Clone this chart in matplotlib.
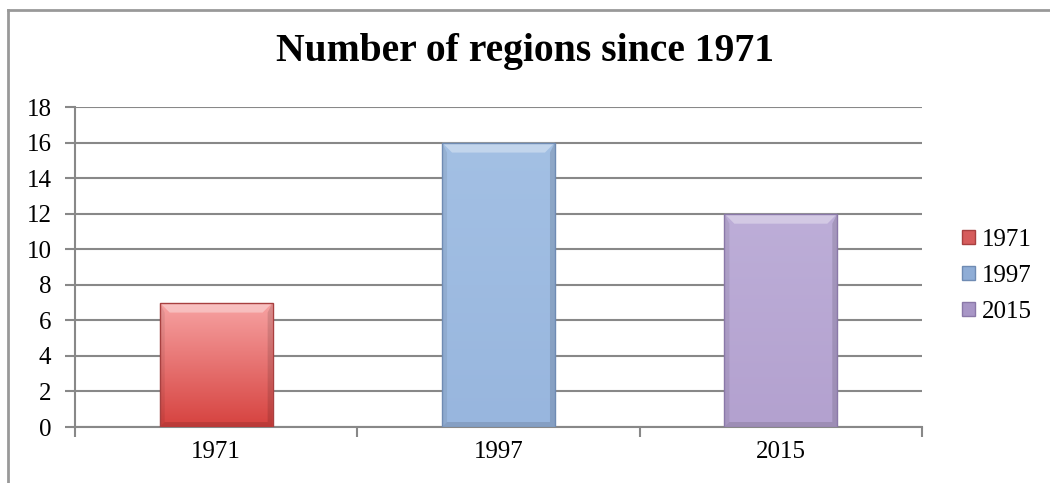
import numpy as np
import matplotlib.pyplot as plt
from matplotlib.patches import Patch, Polygon
from matplotlib.lines import Line2D
from matplotlib.colors import LinearSegmentedColormap

# data
years = ['1971', '1997', '2015']
regions = [7, 16, 12]

# gradient colours for each bar (top, bottom)
top_colors = ['#f7a3a3', '#a3c0e4', '#bdaed8']
bottom_colors = ['#d6423f', '#98b6de', '#b3a1cf']
edge_colors = ['#a84040', '#6f8bb3', '#8a78a8']
legend_colors = ['#d65c5c', '#8fadd6', '#a896c6']

plt.rcParams['font.family'] = 'Liberation Serif'

fig = plt.figure(figsize=(10.5, 4.83), dpi=100)
ax = fig.add_axes([75 / 1050, 1 - 427 / 483, (922 - 75) / 1050, (427 - 107) / 483])

ax.set_xlim(-0.5, len(years) - 0.5)
ax.set_ylim(0, 18)

x = np.arange(len(years))
bar_w = 0.4
bars = ax.bar(x, regions, width=bar_w, color='none', edgecolor='none', zorder=3)

# bevel sizes in data units (about 10 px)
bev_x = 10 * 3 / 847
bev_y = 10 * 18 / 320

# fill each bar with a vertical gradient, clipped to the bar, plus a bevel
grad = np.linspace(0, 1, 256).reshape(-1, 1)
for i, b in enumerate(bars):
    cmap = LinearSegmentedColormap.from_list('g%d' % i, [bottom_colors[i], top_colors[i]])
    x0 = b.get_x()
    w = b.get_width()
    h = b.get_height()
    im = ax.imshow(grad, cmap=cmap, aspect='auto', origin='lower',
                   extent=[x0, x0 + w, 0, h], zorder=3)
    im.set_clip_path(b)
    # top bevel (light)
    ax.add_patch(Polygon([[x0, h], [x0 + w, h], [x0 + w - bev_x, h - bev_y], [x0 + bev_x, h - bev_y]],
                         closed=True, facecolor='white', alpha=0.35, edgecolor='none', zorder=4))
    # side bevels (slightly darker)
    ax.add_patch(Polygon([[x0, h], [x0 + bev_x * 0.5, h - bev_y], [x0 + bev_x * 0.5, bev_y * 0.5], [x0, 0]],
                         closed=True, facecolor='black', alpha=0.07, edgecolor='none', zorder=4))
    ax.add_patch(Polygon([[x0 + w, h], [x0 + w - bev_x * 0.5, h - bev_y], [x0 + w - bev_x * 0.5, bev_y * 0.5], [x0 + w, 0]],
                         closed=True, facecolor='black', alpha=0.12, edgecolor='none', zorder=4))
    ax.add_patch(Polygon([[x0, 0], [x0 + w, 0], [x0 + w - bev_x * 0.5, bev_y * 0.5], [x0 + bev_x * 0.5, bev_y * 0.5]],
                         closed=True, facecolor='black', alpha=0.12, edgecolor='none', zorder=4))
    ax.bar(x[i], regions[i], width=bar_w, color='none',
           edgecolor=edge_colors[i], linewidth=1.0, zorder=5)

ax.set_yticks(np.arange(0, 19, 2))
ax.set_xticks(x)
ax.set_xticklabels(years)
ax.set_xticks(np.arange(-0.5, len(years), 1), minor=True)

ax.tick_params(axis='x', which='major', length=0, labelsize=18, pad=10)
ax.tick_params(axis='x', which='minor', length=7, width=1.5, color='#888888', direction='out')
ax.tick_params(axis='y', length=7, width=1.5, color='#888888', labelsize=18, pad=10)

ax.grid(True, axis='y', color='#888888', linewidth=1.5, zorder=0)
ax.set_axisbelow(True)
for s in ['top', 'right']:
    ax.spines[s].set_visible(False)
for s in ['left', 'bottom']:
    ax.spines[s].set_color('#888888')
    ax.spines[s].set_linewidth(1.5)

fig.text(0.5, 1 - 51 / 483, 'Number of regions since 1971', ha='center', va='center',
         fontsize=28.5, fontweight='bold')

handles = [Patch(facecolor=legend_colors[i], edgecolor=edge_colors[i], label=years[i])
           for i in range(len(years))]
fig.legend(handles=handles, loc='center left', bbox_to_anchor=(0.895, 1 - 276 / 483),
           frameon=False, fontsize=18, handlelength=0.5, handleheight=0.5,
           handletextpad=0.3, labelspacing=0.55)

# outer frame lines (left and top)
fig.add_artist(Line2D([8 / 1050, 8 / 1050], [0, 1 - 10 / 483], transform=fig.transFigure,
                      color='#999999', linewidth=2))
fig.add_artist(Line2D([8 / 1050, 1], [1 - 10 / 483, 1 - 10 / 483], transform=fig.transFigure,
                      color='#999999', linewidth=2))

fig.savefig('out.png', dpi=100)
